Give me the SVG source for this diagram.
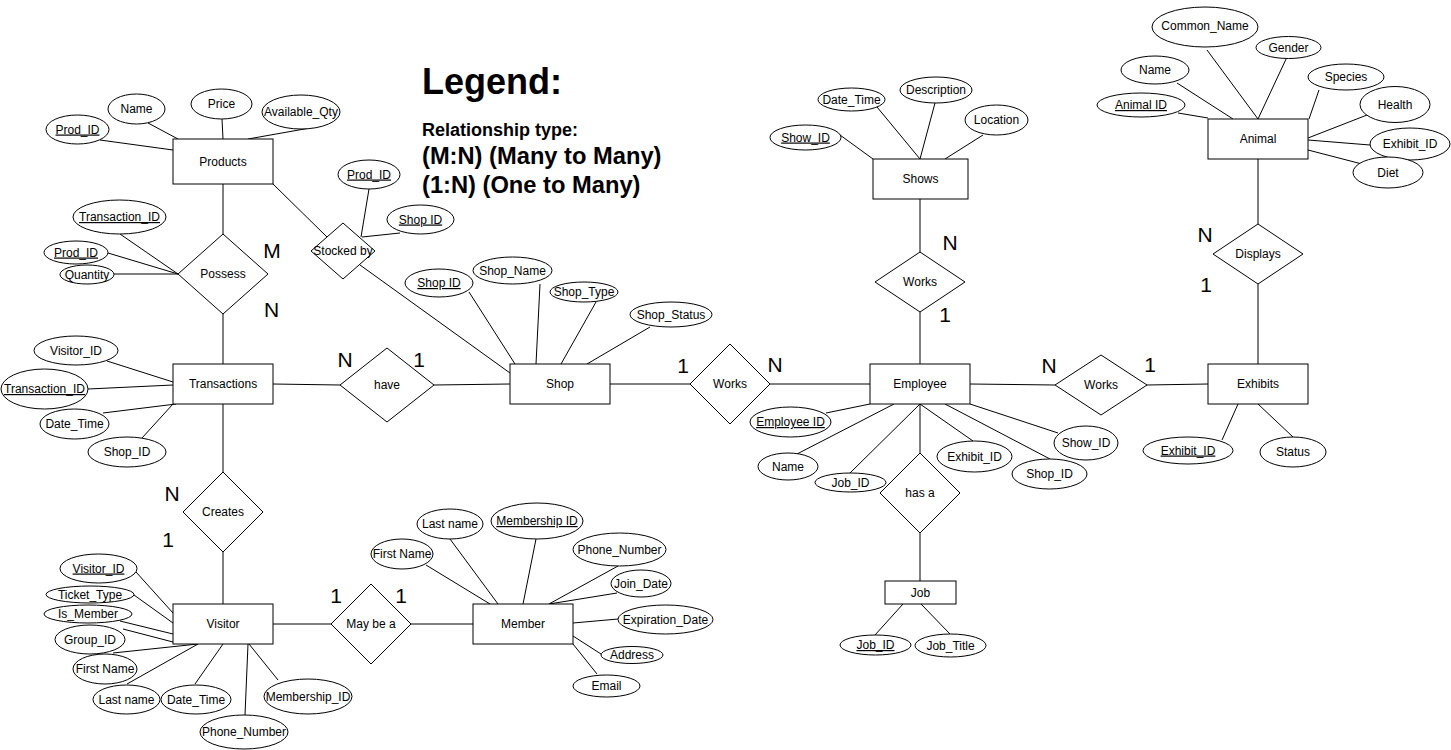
<svg xmlns="http://www.w3.org/2000/svg" width="1451" height="750" viewBox="0 0 1451 750">
<style>
.e{fill:#fff;stroke:#000;stroke-width:1}
.a{fill:#fff;stroke:#000;stroke-width:1}
.r{fill:#fff;stroke:#000;stroke-width:1}
.c line{stroke:#000;stroke-width:1}
text{font-family:"Liberation Sans",Arial,sans-serif;fill:#000}
.t{font-size:12px;text-anchor:middle}
.k{text-decoration:underline}
.n{font-size:21px;text-anchor:middle}
.lg{font-weight:bold}
</style>
<rect width="1451" height="750" fill="#fff"/>
<g id="connectors" class="c">
<line x1="100" y1="140" x2="173" y2="150"/>
<line x1="148" y1="123" x2="178" y2="139"/>
<line x1="222" y1="119" x2="223" y2="139"/>
<line x1="310" y1="128" x2="248" y2="139"/>
<line x1="223" y1="184" x2="223" y2="234"/>
<line x1="273" y1="184" x2="327" y2="237"/>
<line x1="120" y1="234" x2="178" y2="274"/>
<line x1="108" y1="253" x2="178" y2="274"/>
<line x1="114" y1="274" x2="178" y2="274"/>
<line x1="223" y1="314" x2="223" y2="364"/>
<line x1="369" y1="189" x2="361" y2="237"/>
<line x1="400" y1="233" x2="362" y2="237"/>
<line x1="360" y1="265" x2="510" y2="373"/>
<line x1="469" y1="292" x2="515" y2="364"/>
<line x1="540" y1="284" x2="536" y2="364"/>
<line x1="596" y1="302" x2="561" y2="364"/>
<line x1="650" y1="327" x2="587" y2="364"/>
<line x1="107" y1="361" x2="173" y2="382"/>
<line x1="88" y1="389" x2="173" y2="385"/>
<line x1="103" y1="413" x2="176" y2="404"/>
<line x1="142" y1="438" x2="173" y2="404"/>
<line x1="273" y1="384" x2="340" y2="385"/>
<line x1="434" y1="385" x2="510" y2="384"/>
<line x1="223" y1="404" x2="223" y2="472"/>
<line x1="223" y1="552" x2="223" y2="604"/>
<line x1="136" y1="572" x2="173" y2="613"/>
<line x1="134" y1="595" x2="173" y2="623"/>
<line x1="120" y1="621" x2="173" y2="634"/>
<line x1="123" y1="629" x2="173" y2="642"/>
<line x1="113" y1="653" x2="198" y2="644"/>
<line x1="127" y1="684" x2="198" y2="644"/>
<line x1="195" y1="684" x2="223" y2="644"/>
<line x1="245" y1="715" x2="248" y2="644"/>
<line x1="278" y1="680" x2="249" y2="644"/>
<line x1="273" y1="624" x2="331" y2="624"/>
<line x1="411" y1="624" x2="473" y2="624"/>
<line x1="426" y1="565" x2="490" y2="604"/>
<line x1="450" y1="539" x2="498" y2="604"/>
<line x1="536" y1="539" x2="523" y2="604"/>
<line x1="618" y1="566" x2="549" y2="604"/>
<line x1="617" y1="593" x2="549" y2="604"/>
<line x1="618" y1="619" x2="573" y2="623"/>
<line x1="601" y1="654" x2="573" y2="636"/>
<line x1="597" y1="674" x2="573" y2="644"/>
<line x1="610" y1="384" x2="690" y2="384"/>
<line x1="770" y1="384" x2="870" y2="384"/>
<line x1="840" y1="135" x2="873" y2="159"/>
<line x1="877" y1="107" x2="920" y2="159"/>
<line x1="935" y1="103" x2="920" y2="159"/>
<line x1="983" y1="135" x2="945" y2="159"/>
<line x1="920" y1="199" x2="920" y2="252"/>
<line x1="920" y1="312" x2="920" y2="364"/>
<line x1="826" y1="413" x2="870" y2="404"/>
<line x1="797" y1="454" x2="894" y2="404"/>
<line x1="850" y1="473" x2="920" y2="404"/>
<line x1="973" y1="441" x2="920" y2="404"/>
<line x1="1050" y1="459" x2="945" y2="404"/>
<line x1="1058" y1="433" x2="970" y2="404"/>
<line x1="920" y1="404" x2="920" y2="453"/>
<line x1="920" y1="533" x2="920" y2="581"/>
<line x1="875" y1="635" x2="903" y2="604"/>
<line x1="950" y1="634" x2="921" y2="604"/>
<line x1="970" y1="384" x2="1055" y2="385"/>
<line x1="1147" y1="385" x2="1208" y2="384"/>
<line x1="1222" y1="440" x2="1238" y2="404"/>
<line x1="1293" y1="437" x2="1258" y2="404"/>
<line x1="1258" y1="364" x2="1258" y2="284"/>
<line x1="1258" y1="224" x2="1258" y2="159"/>
<line x1="1178" y1="113" x2="1208" y2="118"/>
<line x1="1177" y1="83" x2="1233" y2="119"/>
<line x1="1207" y1="50" x2="1258" y2="119"/>
<line x1="1287" y1="57" x2="1258" y2="119"/>
<line x1="1319" y1="90" x2="1309" y2="119"/>
<line x1="1367" y1="115" x2="1308" y2="138"/>
<line x1="1370" y1="145" x2="1308" y2="140"/>
<line x1="1362" y1="164" x2="1308" y2="150"/>
</g>

<!-- Entities -->
<g id="products"><rect class="e" x="173" y="139" width="100" height="45"/><text class="t" x="223" y="166">Products</text></g>
<g id="transactions"><rect class="e" x="173" y="364" width="100" height="40"/><text class="t" x="223" y="388">Transactions</text></g>
<g id="visitor"><rect class="e" x="173" y="604" width="100" height="40"/><text class="t" x="223" y="628">Visitor</text></g>
<g id="member"><rect class="e" x="473" y="604" width="100" height="40"/><text class="t" x="523" y="628">Member</text></g>
<g id="shop"><rect class="e" x="510" y="364" width="100" height="40"/><text class="t" x="560" y="388">Shop</text></g>
<g id="shows"><rect class="e" x="873" y="159" width="95" height="40"/><text class="t" x="920.5" y="183">Shows</text></g>
<g id="employee"><rect class="e" x="870" y="364" width="100" height="40"/><text class="t" x="920" y="388">Employee</text></g>
<g id="job"><rect class="e" x="885" y="581" width="71" height="23"/><text class="t" x="920.5" y="596.5">Job</text></g>
<g id="exhibits"><rect class="e" x="1208" y="364" width="100" height="40"/><text class="t" x="1258" y="388">Exhibits</text></g>
<g id="animal"><rect class="e" x="1208" y="119" width="100" height="40"/><text class="t" x="1258" y="143">Animal</text></g>

<!-- Relationships -->
<g id="rel-possess"><polygon class="r" points="223,234 268,274 223,314 178,274"/><text class="t" x="223" y="278">Possess</text></g>
<g id="rel-stocked"><polygon class="r" points="343,223 375,251 343,279 311,251"/><text class="t" x="343" y="255">Stocked by</text></g>
<g id="rel-have"><polygon class="r" points="387,348 434,385 387,422 340,385"/><text class="t" x="387" y="389">have</text></g>
<g id="rel-creates"><polygon class="r" points="223,472 263,512 223,552 183,512"/><text class="t" x="223" y="516">Creates</text></g>
<g id="rel-maybea"><polygon class="r" points="371,584 411,624 371,664 331,624"/><text class="t" x="371" y="628">May be a</text></g>
<g id="rel-works-shop"><polygon class="r" points="730,344 770,384 730,424 690,384"/><text class="t" x="730" y="388">Works</text></g>
<g id="rel-works-shows"><polygon class="r" points="920,252 965,282 920,312 875,282"/><text class="t" x="920" y="286">Works</text></g>
<g id="rel-works-exhibits"><polygon class="r" points="1101,355 1147,385 1101,415 1055,385"/><text class="t" x="1101" y="389">Works</text></g>
<g id="rel-displays"><polygon class="r" points="1258,224 1303,254 1258,284 1213,254"/><text class="t" x="1258" y="258">Displays</text></g>
<g id="rel-hasa"><polygon class="r" points="920,453 960,493 920,533 880,493"/><text class="t" x="920" y="497">has a</text></g>

<!-- Attributes -->
<g id="a-prod-prodid"><ellipse class="a" cx="77.5" cy="129.5" rx="31.5" ry="14.5"/><text class="t k" x="77.5" y="133.5">Prod_ID</text></g>
<g id="a-prod-name"><ellipse class="a" cx="136.5" cy="109" rx="28.5" ry="15"/><text class="t" x="136.5" y="113">Name</text></g>
<g id="a-prod-price"><ellipse class="a" cx="221.5" cy="104" rx="30.5" ry="15"/><text class="t" x="221.5" y="108">Price</text></g>
<g id="a-prod-qty"><ellipse class="a" cx="301" cy="112" rx="39" ry="17"/><text class="t" x="301" y="116">Available_Qty</text></g>
<g id="a-pos-tid"><ellipse class="a" cx="119.5" cy="217" rx="46.5" ry="17"/><text class="t k" x="119.5" y="221">Transaction_ID</text></g>
<g id="a-pos-pid"><ellipse class="a" cx="76" cy="252.5" rx="32" ry="11.5"/><text class="t k" x="76" y="256.5">Prod_ID</text></g>
<g id="a-pos-qty"><ellipse class="a" cx="87" cy="274.5" rx="27" ry="9.5"/><text class="t" x="87" y="278.5">Quantity</text></g>
<g id="a-stk-pid"><ellipse class="a" cx="369" cy="174.5" rx="31" ry="14.5"/><text class="t k" x="369" y="178.5">Prod_ID</text></g>
<g id="a-stk-sid"><ellipse class="a" cx="420.5" cy="219.5" rx="33.5" ry="14.5"/><text class="t k" x="420.5" y="223.5">Shop ID</text></g>
<g id="a-shop-id"><ellipse class="a" cx="439" cy="283" rx="34" ry="14"/><text class="t k" x="439" y="287">Shop ID</text></g>
<g id="a-shop-name"><ellipse class="a" cx="512.5" cy="270.5" rx="39.5" ry="13.5"/><text class="t" x="512.5" y="274.5">Shop_Name</text></g>
<g id="a-shop-type"><ellipse class="a" cx="584" cy="292" rx="34" ry="10"/><text class="t" x="584" y="296">Shop_Type</text></g>
<g id="a-shop-status"><ellipse class="a" cx="671" cy="314.5" rx="41" ry="12.5"/><text class="t" x="671" y="318.5">Shop_Status</text></g>
<g id="a-tr-vid"><ellipse class="a" cx="76" cy="350.5" rx="42" ry="14.5"/><text class="t" x="76" y="354.5">Visitor_ID</text></g>
<g id="a-tr-tid"><ellipse class="a" cx="44.5" cy="389" rx="43.5" ry="20"/><text class="t k" x="44.5" y="393">Transaction_ID</text></g>
<g id="a-tr-dt"><ellipse class="a" cx="74.5" cy="424" rx="34.5" ry="15"/><text class="t" x="74.5" y="428">Date_Time</text></g>
<g id="a-tr-sid"><ellipse class="a" cx="127" cy="452" rx="39" ry="15"/><text class="t" x="127" y="456">Shop_ID</text></g>
<g id="a-vis-vid"><ellipse class="a" cx="98.5" cy="568.5" rx="38.5" ry="14.5"/><text class="t k" x="98.5" y="572.5">Visitor_ID</text></g>
<g id="a-vis-tt"><ellipse class="a" cx="90" cy="594.5" rx="44" ry="8.5"/><text class="t" x="90" y="598.5">Ticket_Type</text></g>
<g id="a-vis-im"><ellipse class="a" cx="88" cy="614" rx="44" ry="9"/><text class="t" x="88" y="618">Is_Member</text></g>
<g id="a-vis-gid"><ellipse class="a" cx="90" cy="639.5" rx="35" ry="14.5"/><text class="t" x="90" y="643.5">Group_ID</text></g>
<g id="a-vis-fn"><ellipse class="a" cx="105" cy="669" rx="32" ry="15"/><text class="t" x="105" y="673">First Name</text></g>
<g id="a-vis-ln"><ellipse class="a" cx="126.5" cy="699.5" rx="33.5" ry="14.5"/><text class="t" x="126.5" y="703.5">Last name</text></g>
<g id="a-vis-dt"><ellipse class="a" cx="196" cy="699.5" rx="35" ry="14.5"/><text class="t" x="196" y="703.5">Date_Time</text></g>
<g id="a-vis-pn"><ellipse class="a" cx="244" cy="732" rx="44" ry="17"/><text class="t" x="244" y="736">Phone_Number</text></g>
<g id="a-vis-mid"><ellipse class="a" cx="308" cy="696.5" rx="44" ry="17.5"/><text class="t" x="308" y="700.5">Membership_ID</text></g>
<g id="a-mem-fn"><ellipse class="a" cx="402" cy="554" rx="31" ry="15"/><text class="t" x="402" y="558">First Name</text></g>
<g id="a-mem-ln"><ellipse class="a" cx="450" cy="524" rx="33" ry="15"/><text class="t" x="450" y="528">Last name</text></g>
<g id="a-mem-id"><ellipse class="a" cx="537" cy="521" rx="46" ry="18"/><text class="t k" x="537" y="525">Membership ID</text></g>
<g id="a-mem-pn"><ellipse class="a" cx="619.5" cy="549.5" rx="46.5" ry="16.5"/><text class="t" x="619.5" y="553.5">Phone_Number</text></g>
<g id="a-mem-jd"><ellipse class="a" cx="641" cy="583.5" rx="30" ry="13.5"/><text class="t" x="641" y="587.5">Join_Date</text></g>
<g id="a-mem-ed"><ellipse class="a" cx="665.5" cy="619.5" rx="47.5" ry="14.5"/><text class="t" x="665.5" y="623.5">Expiration_Date</text></g>
<g id="a-mem-ad"><ellipse class="a" cx="632" cy="655" rx="31" ry="8.5"/><text class="t" x="632" y="659">Address</text></g>
<g id="a-mem-em"><ellipse class="a" cx="606.5" cy="686" rx="33.5" ry="11"/><text class="t" x="606.5" y="690">Email</text></g>
<g id="a-sh-id"><ellipse class="a" cx="805.5" cy="137.5" rx="35.5" ry="12.5"/><text class="t k" x="805.5" y="141.5">Show_ID</text></g>
<g id="a-sh-dt"><ellipse class="a" cx="851.5" cy="99.5" rx="33.5" ry="11.5"/><text class="t" x="851.5" y="103.5">Date_Time</text></g>
<g id="a-sh-desc"><ellipse class="a" cx="936" cy="90" rx="36" ry="13"/><text class="t" x="936" y="94">Description</text></g>
<g id="a-sh-loc"><ellipse class="a" cx="996.5" cy="120" rx="31.5" ry="15"/><text class="t" x="996.5" y="124">Location</text></g>
<g id="a-emp-id"><ellipse class="a" cx="790.5" cy="422" rx="40.5" ry="15"/><text class="t k" x="790.5" y="426">Employee ID</text></g>
<g id="a-emp-name"><ellipse class="a" cx="788" cy="466.5" rx="30" ry="13.5"/><text class="t" x="788" y="470.5">Name</text></g>
<g id="a-emp-job"><ellipse class="a" cx="850.5" cy="482.5" rx="35.5" ry="9.5"/><text class="t" x="850.5" y="486.5">Job_ID</text></g>
<g id="a-emp-ex"><ellipse class="a" cx="974.5" cy="456.5" rx="37.5" ry="15.5"/><text class="t" x="974.5" y="460.5">Exhibit_ID</text></g>
<g id="a-emp-shop"><ellipse class="a" cx="1049.5" cy="474" rx="37.5" ry="15"/><text class="t" x="1049.5" y="478">Shop_ID</text></g>
<g id="a-emp-show"><ellipse class="a" cx="1086" cy="443" rx="32" ry="17"/><text class="t" x="1086" y="447">Show_ID</text></g>
<g id="a-job-id"><ellipse class="a" cx="875.5" cy="645" rx="35.5" ry="10"/><text class="t k" x="875.5" y="649">Job_ID</text></g>
<g id="a-job-title"><ellipse class="a" cx="950.5" cy="645.5" rx="35.5" ry="11.5"/><text class="t" x="950.5" y="649.5">Job_Title</text></g>
<g id="a-ex-id"><ellipse class="a" cx="1188" cy="450.5" rx="45" ry="13.5"/><text class="t k" x="1188" y="454.5">Exhibit_ID</text></g>
<g id="a-ex-status"><ellipse class="a" cx="1293" cy="452" rx="33" ry="15"/><text class="t" x="1293" y="456">Status</text></g>
<g id="a-an-cn"><ellipse class="a" cx="1205" cy="27" rx="53" ry="20"/><text class="t" x="1205" y="30">Common_Name</text></g>
<g id="a-an-gender"><ellipse class="a" cx="1288.5" cy="47.5" rx="32.5" ry="11"/><text class="t" x="1288.5" y="51.5">Gender</text></g>
<g id="a-an-name"><ellipse class="a" cx="1155" cy="70" rx="34" ry="14"/><text class="t" x="1155" y="74">Name</text></g>
<g id="a-an-species"><ellipse class="a" cx="1346" cy="77" rx="38" ry="13"/><text class="t" x="1346" y="81">Species</text></g>
<g id="a-an-health"><ellipse class="a" cx="1395" cy="104.5" rx="35" ry="18"/><text class="t" x="1395" y="108.5">Health</text></g>
<g id="a-an-id"><ellipse class="a" cx="1141" cy="105" rx="44" ry="12"/><text class="t k" x="1141" y="109">Animal ID</text></g>
<g id="a-an-ex"><ellipse class="a" cx="1410" cy="144" rx="40" ry="16"/><text class="t" x="1410" y="148">Exhibit_ID</text></g>
<g id="a-an-diet"><ellipse class="a" cx="1388" cy="172.5" rx="35" ry="15.5"/><text class="t" x="1388" y="176.5">Diet</text></g>

<!-- Cardinalities -->
<g id="cardinalities">
<text class="n" x="272" y="258">M</text>
<text class="n" x="271.5" y="317">N</text>
<text class="n" x="345" y="367">N</text>
<text class="n" x="419" y="367">1</text>
<text class="n" x="172" y="501">N</text>
<text class="n" x="168" y="547">1</text>
<text class="n" x="336" y="603">1</text>
<text class="n" x="401" y="603">1</text>
<text class="n" x="683" y="373">1</text>
<text class="n" x="775" y="372">N</text>
<text class="n" x="950" y="250">N</text>
<text class="n" x="945" y="322">1</text>
<text class="n" x="1049" y="373">N</text>
<text class="n" x="1150" y="372">1</text>
<text class="n" x="1205" y="242">N</text>
<text class="n" x="1206" y="292">1</text>
</g>

<!-- Legend -->
<g id="legend">
<text class="lg" x="422" y="94" font-size="36">Legend:</text>
<text class="lg" x="422" y="136" font-size="18">Relationship type:</text>
<text class="lg" x="422" y="164" font-size="23.7">(M:N) (Many to Many)</text>
<text class="lg" x="422" y="193" font-size="23.7">(1:N) (One to Many)</text>
</g>
</svg>
